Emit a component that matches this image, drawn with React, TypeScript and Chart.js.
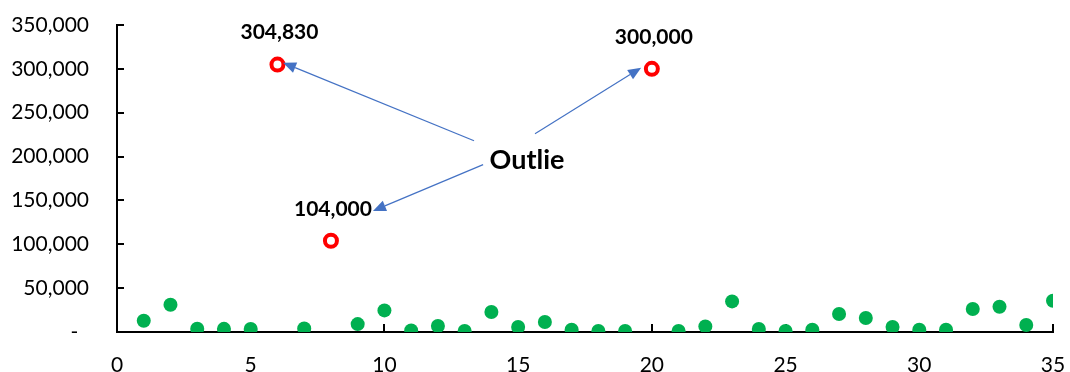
import React, { useEffect, useRef } from 'react';
import { Chart, registerables } from 'chart.js';

Chart.register(...registerables);

// Regular observations
const normalX = [1, 2, 3, 4, 5, 7, 9, 10, 11, 12, 13, 14, 15, 16, 17, 18, 19, 21, 22, 23, 24, 25, 26, 27, 28, 29, 30, 31, 32, 33, 34, 35];
const normalY = [12900, 31100, 3700, 3600, 3500, 4100, 9000, 24600, 1800, 6800, 1100, 22800, 5700, 11400, 2600, 1100, 1100, 1100, 6400, 34900, 3400, 1100, 2600, 20500, 16000, 5700, 2600, 2600, 26200, 28800, 8000, 35700];

// Outliers
const outlierX = [6, 8, 20];
const outlierY = [304830, 104000, 300000];

// Callout text and arrows (data coordinates)
const calloutText = 'Outlie';
const calloutPos = [15.33, 195600];
const arrowFromX = [13.35, 15.63, 13.69];
const arrowFromY = [218000, 226000, 190800];
const arrowToX = [6.21, 19.6, 9.57];
const arrowToY = [307000, 301300, 138000];

// Axis ranges
const xMin = 0, xMax = 35, xStep = 5;
const yMin = 0, yMax = 350000, yStep = 50000;

const FONT = 'Lato, "Open Sans", sans-serif';

const annotPlugin = {
  id: 'annot',
  beforeDatasetsDraw(chart: any) {
    const ctx = chart.ctx;
    const xs = chart.scales.x;
    const ys = chart.scales.y;
    const area = chart.chartArea;
    ctx.save();
    // inside tick marks
    ctx.strokeStyle = '#000';
    ctx.lineWidth = 2;
    for (let v = yMin; v <= yMax; v += yStep) {
      const py = Math.round(ys.getPixelForValue(v));
      ctx.beginPath();
      ctx.moveTo(area.left, py);
      ctx.lineTo(area.left + 7, py);
      ctx.stroke();
    }
    for (let v = xMin; v <= xMax; v += xStep) {
      const px = Math.round(xs.getPixelForValue(v));
      ctx.beginPath();
      ctx.moveTo(px, area.bottom);
      ctx.lineTo(px, area.bottom - 8);
      ctx.stroke();
    }
    ctx.restore();
  },
  afterDraw(chart: any) {
    const ctx = chart.ctx;
    const xs = chart.scales.x;
    const ys = chart.scales.y;
    ctx.save();
    // arrows
    ctx.strokeStyle = '#4472C4';
    ctx.fillStyle = '#4472C4';
    ctx.lineWidth = 1.2;
    for (let i = 0; i < arrowFromX.length; i++) {
      const x1 = xs.getPixelForValue(arrowFromX[i]);
      const y1 = ys.getPixelForValue(arrowFromY[i]);
      const x2 = xs.getPixelForValue(arrowToX[i]);
      const y2 = ys.getPixelForValue(arrowToY[i]);
      const ang = Math.atan2(y2 - y1, x2 - x1);
      const hl = 13, hw = 5.5;
      const bx = x2 - hl * Math.cos(ang);
      const by = y2 - hl * Math.sin(ang);
      ctx.beginPath();
      ctx.moveTo(x1, y1);
      ctx.lineTo(bx, by);
      ctx.stroke();
      ctx.beginPath();
      ctx.moveTo(x2, y2);
      ctx.lineTo(bx + hw * Math.sin(ang), by - hw * Math.cos(ang));
      ctx.lineTo(bx - hw * Math.sin(ang), by + hw * Math.cos(ang));
      ctx.closePath();
      ctx.fill();
    }
    // callout text
    ctx.fillStyle = '#000';
    ctx.font = `bold 27px ${FONT}`;
    ctx.textAlign = 'center';
    ctx.textBaseline = 'middle';
    ctx.fillText(calloutText, xs.getPixelForValue(calloutPos[0]), ys.getPixelForValue(calloutPos[1]));
    // outlier labels
    ctx.font = `bold 21px ${FONT}`;
    for (let i = 0; i < outlierX.length; i++) {
      const px = xs.getPixelForValue(outlierX[i]);
      const py = ys.getPixelForValue(outlierY[i]);
      ctx.fillText(outlierY[i].toLocaleString('en-US'), px + 2, py - 32);
    }
    ctx.restore();
  },
};

const zeroPad = (s: any) => {
  s.paddingTop = 0;
  s.paddingBottom = 0;
  s.paddingLeft = 0;
  s.paddingRight = 0;
};

export default function App() {
  const ref = useRef<HTMLCanvasElement>(null);
  useEffect(() => {
    document.body.style.margin = '0';
    const chart = new Chart(ref.current!, {
      type: 'scatter',
      data: {
        datasets: [
          {
            label: 'Values',
            data: normalX.map((x, i) => ({ x, y: normalY[i] })),
            backgroundColor: '#00B050',
            borderWidth: 0,
            pointRadius: 7,
          },
          {
            label: 'Outliers',
            data: outlierX.map((x, i) => ({ x, y: outlierY[i] })),
            backgroundColor: '#FFFFFF',
            borderColor: '#FF0000',
            borderWidth: 4,
            pointRadius: 6,
          },
        ],
      },
      options: {
        animation: false,
        responsive: false,
        layout: { padding: { top: 25, right: 17, left: 0, bottom: 0 } },
        plugins: { legend: { display: false }, tooltip: { enabled: false } },
        scales: {
          x: {
            type: 'linear',
            min: xMin,
            max: xMax,
            afterFit: (s: any) => { s.height = 40; zeroPad(s); },
            ticks: { stepSize: xStep, color: '#000', font: { family: FONT, size: 21 }, padding: 21 },
            grid: { display: false, drawTicks: false },
            border: { display: true, color: '#000', width: 2 },
          },
          y: {
            type: 'linear',
            min: yMin,
            max: yMax,
            afterFit: (s: any) => { s.width = 117; zeroPad(s); },
            ticks: {
              stepSize: yStep,
              color: '#000',
              font: { family: FONT, size: 21 },
              padding: 28,
              callback: (v: any) => (Number(v) === 0 ? '-  ' : Number(v).toLocaleString('en-US')),
            },
            grid: { display: false, drawTicks: false },
            border: { display: true, color: '#000', width: 2 },
          },
        },
      },
      plugins: [annotPlugin],
    });
    return () => chart.destroy();
  }, []);
  return (
    <div style={{ width: 1070, height: 372 }}>
      <canvas ref={ref} width={1070} height={372} style={{ display: 'block' }} />
    </div>
  );
}
